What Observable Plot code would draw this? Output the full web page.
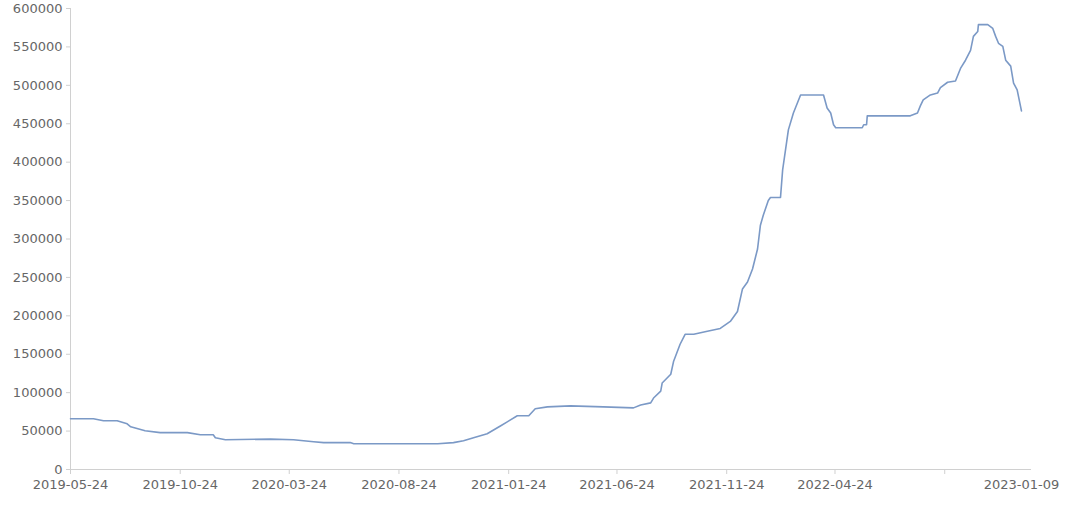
<!DOCTYPE html>
<html>
<head>
<meta charset="utf-8">
<script src="https://cdn.jsdelivr.net/npm/d3@7"></script>
<script src="https://cdn.jsdelivr.net/npm/@observablehq/plot@0.6"></script>
<style>
  html, body { margin: 0; padding: 0; background: #fff; }
  #chart svg { display: block; }
</style>
</head>
<body>
<div id="chart"></div>
<script>
const dates = [
  "2019-05-24","2019-06-25","2019-07-09","2019-07-28","2019-08-11","2019-08-16","2019-09-05","2019-09-26",
  "2019-11-03","2019-11-21","2019-12-09","2019-12-12","2019-12-26","2020-02-27","2020-03-30","2020-04-27",
  "2020-05-11","2020-06-17","2020-06-22","2020-10-17","2020-11-08","2020-11-22","2020-12-06","2020-12-25",
  "2021-01-13","2021-01-22","2021-02-05","2021-02-21","2021-03-02","2021-03-19","2021-04-20","2021-06-05",
  "2021-07-17","2021-07-27","2021-08-10","2021-08-14","2021-08-24","2021-08-26","2021-09-07","2021-09-11",
  "2021-09-20","2021-09-27","2021-10-09","2021-10-28","2021-11-15","2021-11-29","2021-12-09","2021-12-16",
  "2021-12-23","2021-12-30","2022-01-06","2022-01-10","2022-01-14","2022-01-21","2022-01-24","2022-02-07",
  "2022-02-10","2022-02-18","2022-02-25","2022-03-07","2022-04-08","2022-04-13","2022-04-18","2022-04-22",
  "2022-04-25","2022-06-01","2022-06-03","2022-06-07","2022-06-08","2022-08-07","2022-08-17","2022-08-21",
  "2022-08-25","2022-09-04","2022-09-14","2022-09-18","2022-09-28","2022-10-09","2022-10-16","2022-10-23",
  "2022-10-30","2022-11-03","2022-11-09","2022-11-10","2022-11-23","2022-11-30","2022-12-04","2022-12-08",
  "2022-12-14","2022-12-18","2022-12-25","2022-12-29","2023-01-03","2023-01-09"
];
const prices = [
  66000,66000,63500,63500,59500,55600,50400,48000,
  48000,45300,45300,41400,38800,39500,38800,36200,
  35000,35000,33600,33600,35000,37500,41400,46500,
  57000,62000,70000,70000,79000,81500,82800,81500,
  80200,84000,86700,93000,102000,112500,124000,141000,
  163000,176000,176000,180000,183600,192700,205600,235000,
  244000,261000,287000,318000,331000,350000,354000,354000,
  390000,442000,464000,487500,487500,470600,464000,448700,
  444800,444800,448700,448700,460300,460300,464000,473200,
  481000,487500,490000,497000,504000,505600,522000,532700,
  545600,563700,570000,579000,579000,574000,563700,554700,
  550800,532700,525000,503000,494000,466800
];
const tickDates = ["2019-05-24","2019-10-24","2020-03-24","2020-08-24","2021-01-24","2021-06-24","2021-11-24","2022-04-24","2022-09-24"];
const labelDates = ["2019-05-24","2019-10-24","2020-03-24","2020-08-24","2021-01-24","2021-06-24","2021-11-24","2022-04-24","2023-01-09"];
const yTicks = [0,50000,100000,150000,200000,250000,300000,350000,400000,450000,500000,550000,600000];
const xStart = "2019-05-24";
const xEnd = "2023-01-23";

const parse = d3.utcParse("%Y-%m-%d");
const fmt = d3.utcFormat("%Y-%m-%d");
const data = dates.map((d, i) => ({date: parse(d), price: prices[i]}));

const axisColor = "#d0d0d0";
const textColor = "#666";

const chart = Plot.plot({
  width: 1080,
  height: 506,
  marginLeft: 70,
  marginRight: 49,
  marginTop: 8,
  marginBottom: 37,
  style: {fontFamily: "DejaVu Sans", fontSize: "13px", background: "#fff", color: textColor},
  x: {type: "utc", domain: [parse(xStart), parse(xEnd)]},
  y: {domain: [0, 600000]},
  marks: [
    Plot.ruleX([parse(xStart)], {stroke: axisColor, strokeWidth: 1}),
    Plot.ruleY([0], {stroke: axisColor, strokeWidth: 1}),
    Plot.axisY({ticks: yTicks, tickSize: 4, tickPadding: 4, stroke: axisColor, fill: textColor, tickFormat: d => String(d), label: null}),
    Plot.axisX({ticks: tickDates.map(parse), tickSize: 5, stroke: axisColor, tickFormat: () => "", label: null}),
    Plot.axisX({ticks: labelDates.map(parse), tickSize: 0, tickPadding: 10, fill: textColor, tickFormat: fmt, label: null}),
    Plot.line(data, {x: "date", y: "price", stroke: "#7b99c6", strokeWidth: 1.6})
  ]
});
document.getElementById("chart").appendChild(chart);
</script>
</body>
</html>
